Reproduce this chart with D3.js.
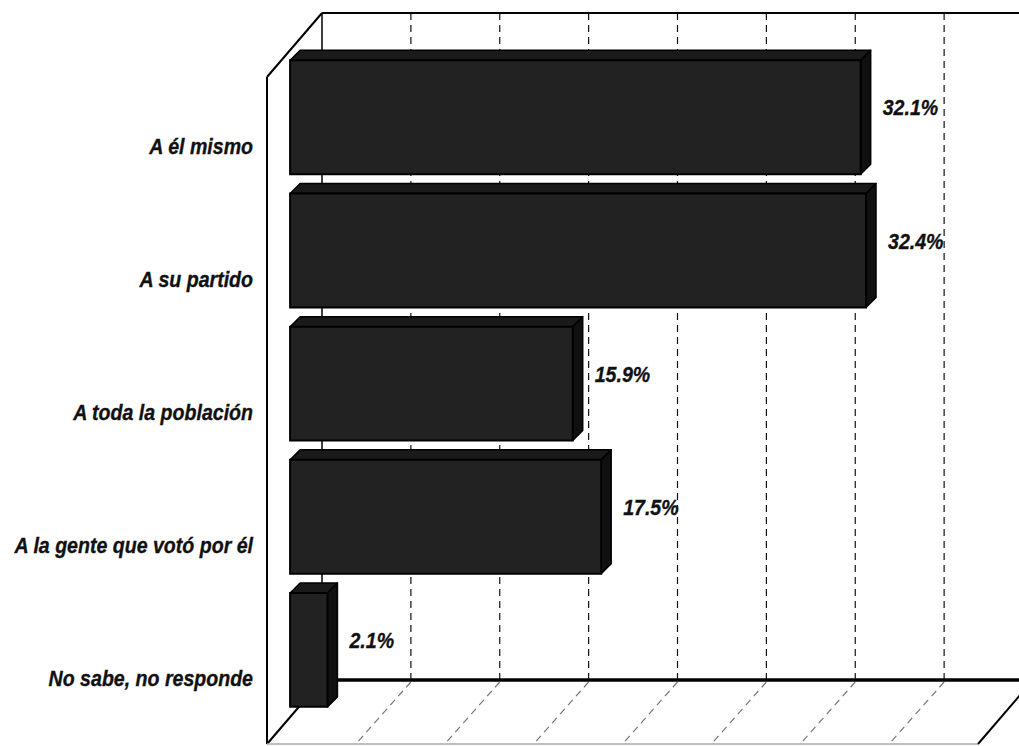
<!DOCTYPE html>
<html>
<head>
<meta charset="utf-8">
<script src="https://cdn.jsdelivr.net/npm/d3@7"></script>
<style>
  html, body { margin: 0; padding: 0; background: #fff; }
  svg { display: block; }
  .lbl { font-family: "Liberation Sans", Arial, sans-serif; font-weight: bold; font-style: italic; font-size: 22.5px; fill: #111; stroke: #111; stroke-width: 0.35px; }
</style>
</head>
<body>
<svg id="chart" width="1019" height="746"></svg>
<script>
// Survey answers and their shares (%)
const categories = ["A él mismo", "A su partido", "A toda la población", "A la gente que votó por él", "No sabe, no responde"];
const values = [32.1, 32.4, 15.9, 17.5, 2.1];
const valueLabels = ["32.1%", "32.4%", "15.9%", "17.5%", "2.1%"];
const valueTicks = [5, 10, 15, 20, 25, 30, 35];

const svg = d3.select("#chart");

// Back wall plane
const wall = { left: 322, right: 1033, top: 13, bottom: 680 };
// Oblique depth vector from back wall (d=0) to front edge (d=1)
const depth = { dx: -55, dy: 64 };
const barDepthFront = 0.58;       // bar front face position in depth
const barExtrude = { dx: 10, dy: -10 };

const x = d3.scaleLinear().domain([0, 40]).range([wall.left, wall.right]);
const y = d3.scaleBand().domain(categories).range([wall.top, wall.bottom])
  .paddingInner(0.145).paddingOuter(0.077);

const proj = (px, py, d) => [px + depth.dx * d, py + depth.dy * d];

// Floor gridlines (receding dashes)
svg.append("g").selectAll("line").data(valueTicks).join("line")
  .attr("x1", d => x(d)).attr("y1", wall.bottom + 2)
  .attr("x2", d => proj(x(d), wall.bottom, 1)[0]).attr("y2", d => proj(x(d), wall.bottom, 1)[1])
  .attr("stroke", "#777").attr("stroke-width", 1.2).attr("stroke-dasharray", "7,5");

// Back wall gridlines
svg.append("g").selectAll("line").data(valueTicks).join("line")
  .attr("x1", d => x(d)).attr("y1", wall.top)
  .attr("x2", d => x(d)).attr("y2", wall.bottom)
  .attr("stroke", "#111").attr("stroke-width", 1.2).attr("stroke-dasharray", "7,5");

// Back wall edges
svg.append("line").attr("x1", wall.left).attr("y1", wall.top).attr("x2", wall.right).attr("y2", wall.top)
  .attr("stroke", "#000").attr("stroke-width", 2);
svg.append("line").attr("x1", wall.left).attr("y1", wall.top).attr("x2", wall.left).attr("y2", wall.bottom)
  .attr("stroke", "#000").attr("stroke-width", 1.5);
svg.append("line").attr("x1", wall.left).attr("y1", wall.bottom).attr("x2", wall.right).attr("y2", wall.bottom)
  .attr("stroke", "#000").attr("stroke-width", 3.5);

// Left wall and floor outline
const ftl = proj(wall.left, wall.top, 1);
const fbl = proj(wall.left, wall.bottom, 1);
const fbr = proj(wall.right, wall.bottom, 1);
const edge = (a, b, c, w) => svg.append("line")
  .attr("x1", a[0]).attr("y1", a[1]).attr("x2", b[0]).attr("y2", b[1])
  .attr("stroke", c).attr("stroke-width", w);
edge([wall.left, wall.top], ftl, "#000", 2);
edge(ftl, fbl, "#000", 2);
edge(fbl, [wall.left, wall.bottom], "#000", 2);
edge(fbl, fbr, "#aaa", 1.5);
edge(fbr, [wall.right, wall.bottom], "#000", 2);

// Bars
const data = categories.map((c, i) => ({ c, v: values[i], label: valueLabels[i] }));
const bars = svg.append("g").selectAll("g").data(data).join("g");

function faces(d) {
  const [x0, yt] = proj(x(0), y(d.c), barDepthFront);
  const [x1, yb] = proj(x(d.v), y(d.c) + y.bandwidth(), barDepthFront);
  const ex = barExtrude.dx, ey = barExtrude.dy;
  return {
    front: [[x0, yt], [x1, yt], [x1, yb], [x0, yb]],
    top: [[x0, yt], [x0 + ex, yt + ey], [x1 + ex, yt + ey], [x1, yt]],
    side: [[x1, yt], [x1 + ex, yt + ey], [x1 + ex, yb + ey], [x1, yb]],
    backRight: x1 + ex,
    backMid: (yt + yb) / 2 + ey
  };
}
const poly = p => p.map(q => q.join(",")).join(" ");

bars.append("polygon").attr("points", d => poly(faces(d).top))
  .attr("fill", "#1a1a1a").attr("stroke", "#000").attr("stroke-width", 1.5).attr("stroke-linejoin", "round");
bars.append("polygon").attr("points", d => poly(faces(d).side))
  .attr("fill", "#101010").attr("stroke", "#000").attr("stroke-width", 1.5).attr("stroke-linejoin", "round");
bars.append("polygon").attr("points", d => poly(faces(d).front))
  .attr("fill", "#222").attr("stroke", "#000").attr("stroke-width", 2);

// Value labels
bars.append("text").attr("class", "lbl")
  .attr("transform", d => { const f = faces(d); return `translate(${f.backRight + 12},${f.backMid}) scale(0.87,1)`; })
  .attr("dy", "0.36em")
  .text(d => d.label);

// Category labels, centred on the front edge of each band
svg.append("g").selectAll("text").data(categories).join("text").attr("class", "lbl")
  .attr("text-anchor", "end")
  .attr("transform", c => { const p = proj(x(0), y(c) + y.bandwidth() / 2, 1); return `translate(253,${p[1]}) scale(0.87,1)`; })
  .attr("dy", "0.42em")
  .text(c => c);
</script>
</body>
</html>
